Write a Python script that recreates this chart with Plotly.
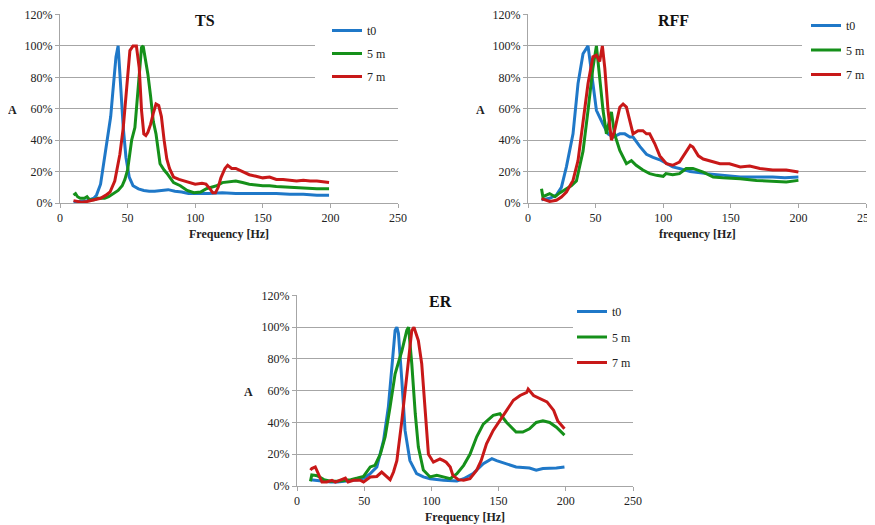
import plotly.graph_objects as go

W, H = 875, 525
OFF = 8  # page body margin offset
FONT = "Liberation Serif"
BLUE, GREEN, RED = "#1F78C8", "#15901A", "#C81818"
GRID = "#A6A6A6"

series_names = ["t0", "5 m", "7 m"]
x_ticks = [0, 50, 100, 150, 200, 250]
y_ticks = [0, 20, 40, 60, 80, 100, 120]
y_ticktext = ["0%", "20%", "40%", "60%", "80%", "100%", "120%"]

# ---------------- TS ----------------
ts_t0_x = [10, 15, 20, 25, 27, 30, 33, 35.7, 37.5, 39, 41.4, 43, 44.8, 46.8, 48.8, 51.2, 54, 58, 62, 66, 70, 75, 80, 85, 90, 95, 100, 110, 120, 130, 140, 150, 160, 170, 180, 190, 199]
ts_t0_y = [0.5, 1, 1.5, 3, 5, 12, 29, 42, 55, 70, 93, 100, 76, 48, 29, 16.5, 11, 9, 8, 7.5, 7.5, 8, 8.5, 7.5, 7, 6, 6, 6, 6.5, 6, 6, 6, 6, 5.5, 5.5, 5, 5]
ts_5m_x = [10, 11.5, 13, 15, 18, 20, 22, 25, 28, 30, 33, 36, 40, 43, 46, 48, 50, 53, 55.4, 57.9, 60.3, 61.5, 63, 65, 67, 69, 71, 74, 77, 79, 84, 89, 94, 99, 104, 108, 112, 116, 120, 125, 130, 135, 140, 145, 150, 155, 160, 170, 180, 185, 190, 195, 199]
ts_5m_y = [5, 6, 4, 3, 3, 4, 2, 2, 3, 3, 3, 4, 6, 8, 11, 15, 21, 40, 48, 73, 99, 100, 93, 82, 68, 52, 44, 25, 21, 19, 13, 11, 8, 6.5, 7, 9, 10, 11, 13, 13.5, 14, 13, 12, 11.5, 11, 11, 10.5, 10, 9.5, 9, 9, 9, 9]
ts_7m_x = [10, 13, 16, 20, 25, 30, 34, 37, 40.5, 44.3, 46.8, 49.3, 51.7, 54, 56.5, 58.6, 60.3, 62, 63.5, 65, 67, 69, 71, 73, 75, 77, 79, 81, 84, 88, 95, 100, 105, 108, 111, 113, 115, 117, 119, 122, 124, 127, 130, 135, 140, 145, 150, 155, 160, 165, 170, 175, 180, 185, 190, 195, 199]
ts_7m_y = [1.5, 1, 0.5, 1, 2, 3, 5, 7, 14, 31, 48, 76, 97, 100, 100, 86, 59, 44, 43, 45, 50, 57, 63, 62, 55, 40, 28, 22, 16.5, 15, 13, 12, 12.5, 12, 9, 6.5, 6.5, 10, 16, 22, 24, 22, 22, 20, 18, 17, 16, 16.5, 15, 15, 14.5, 14, 14.5, 14, 14, 13.5, 13]

# ---------------- RFF ----------------
rff_t0_x = [10, 16, 21, 24.7, 28.4, 33.3, 37, 40.7, 44.4, 46.9, 50.6, 55.5, 59.2, 63, 67.9, 71.6, 75.3, 77.7, 82.7, 87.6, 92.5, 97.5, 102.4, 107, 112, 120, 132, 144, 157, 170, 181, 190, 200]
rff_t0_y = [2, 3, 5, 10, 23, 44, 76, 95, 100, 82, 59, 50, 44, 42, 44, 44, 42, 42, 36, 31, 29, 27.5, 25, 23, 22, 20, 18.7, 17.6, 16.5, 16.5, 16.5, 16, 16.5]
rff_5m_x = [10, 11, 16, 20, 23.4, 28.4, 32, 35.8, 40.7, 44.4, 48, 50.6, 53, 55.5, 58, 61.7, 64, 67.9, 72.8, 76.5, 80, 85, 90, 95, 100, 102, 107, 112, 117, 122, 129.6, 137, 144, 157, 169, 181, 191, 200]
rff_5m_y = [9, 4, 6, 4, 6.4, 9, 11, 14, 33, 59, 86, 100, 80, 59, 44, 58, 44, 33.5, 25, 27, 24, 21, 18.7, 17.6, 17, 18.7, 18, 18.7, 22, 22, 19.7, 16.5, 16, 15.5, 14.4, 13.8, 13.4, 14.4]
rff_7m_x = [10, 16, 21, 24.7, 28.4, 33.3, 37, 40.7, 44.4, 48, 50.6, 53, 55, 56.8, 59.2, 61.7, 64, 67.9, 70.3, 72.8, 75.3, 77.7, 81.4, 85, 87.6, 90, 93.8, 97.5, 102.4, 107, 112, 116, 120, 122, 126, 129.6, 134.5, 142, 149, 157, 164, 171.5, 181, 191, 200]
rff_7m_y = [2.8, 1, 1.7, 3.8, 7, 14.4, 27, 50, 76, 93, 94, 90, 100, 86, 59, 40, 46, 61, 63, 61, 52.6, 44, 46, 46, 44, 44, 37.7, 30, 25, 24, 26, 31, 36.7, 35.6, 30, 28, 27, 25, 25, 23, 23.5, 22, 21, 21, 19.7]

# ---------------- ER ----------------
er_t0_x = [10, 15, 20, 25, 30, 37, 45, 50, 54.5, 59.4, 64.4, 68, 70.5, 73, 74.3, 75.5, 78, 80.4, 84, 89, 94, 99, 109, 119, 124, 131, 138.6, 145, 148.5, 156, 163, 173, 178, 183, 193, 199]
er_t0_y = [4, 3.5, 3, 2.5, 2.5, 3, 4, 5, 7.8, 12, 28.7, 50, 77, 98, 100, 96, 66.5, 35, 16, 7.8, 5.7, 4.6, 3.6, 3.1, 4.6, 7.8, 14, 17.2, 16, 14, 12, 11.3, 9.9, 11, 11.3, 12]
er_5m_x = [10, 11, 15, 18, 20, 25, 30, 35, 40, 45, 49.5, 54.5, 58, 62, 65.6, 69.3, 73, 78, 81.7, 83, 85.4, 88, 90.3, 94, 99, 104, 109, 114, 119, 124, 128.7, 133.7, 138.6, 146, 151, 156, 163, 168, 173, 178, 183, 188, 193, 199]
er_5m_y = [3, 7, 6.5, 5, 4, 3, 3, 3.5, 4, 5, 6, 12, 13, 20, 31, 50, 70.7, 85, 98, 100, 77, 45.5, 24.5, 10, 5.7, 6.7, 5.7, 4.6, 7.8, 13, 20, 31, 39, 44.5, 45.5, 40, 34, 34, 36, 40, 41, 40, 37, 32]
er_7m_x = [10, 11, 13.6, 16, 18.6, 22, 26, 28.5, 32, 36, 38, 42, 47, 49.5, 54.5, 59.4, 63, 66.8, 69.3, 71.8, 74.3, 78, 81.7, 85.4, 87, 90.3, 92.8, 95.3, 97.8, 101.5, 104, 106.4, 109, 111, 114, 116, 120, 124, 128.7, 133.7, 137, 141, 146, 151, 156, 161, 166, 171, 172, 176, 181, 186, 191, 194, 199]
er_7m_y = [10, 11, 12, 7.8, 2.5, 2.5, 3.6, 2.5, 3.6, 5, 2.5, 3.6, 3.6, 2.5, 5.7, 6, 8.8, 5.7, 4, 8.8, 16, 41, 70.7, 98, 100, 91.6, 77, 45.5, 20, 15, 16, 17, 16, 15, 12, 6.7, 4, 3.6, 4.6, 10, 16, 26.6, 35, 41, 47.6, 54, 57, 59, 61, 57, 55, 53, 47.6, 41, 36]

panels = [
    dict(name="TS", xlabel="Frequency [Hz]", px=(60, 398), py=(14, 203),
         data=[(ts_t0_x, ts_t0_y), (ts_5m_x, ts_5m_y), (ts_7m_x, ts_7m_y)],
         title_xy=(205, 20), legend_box=(315, 399, 17, 91), legend_xy=(327, 16), gap=4),
    dict(name="RFF", xlabel="frequency [Hz]", px=(528, 866), py=(14, 203),
         data=[(rff_t0_x, rff_t0_y), (rff_5m_x, rff_5m_y), (rff_7m_x, rff_7m_y)],
         title_xy=(673, 20), legend_box=(802, 867, 17, 91), legend_xy=(806, 11), gap=5.5),
    dict(name="ER", xlabel="Frequency [Hz]", px=(297, 633), py=(295, 486),
         data=[(er_t0_x, er_t0_y), (er_5m_x, er_5m_y), (er_7m_x, er_7m_y)],
         title_xy=(440, 301), legend_box=(573, 634, 300, 373), legend_xy=(572, 297), gap=6.5),
]
colors = [BLUE, GREEN, RED]

fig = go.Figure()
layout = dict(width=W, height=H, margin=dict(l=0, r=0, t=0, b=0, autoexpand=False),
              paper_bgcolor="white", plot_bgcolor="white",
              font=dict(family=FONT, size=12, color="#222"))
shapes, annotations = [], []

def fx(p):
    return (p - OFF) / W

def fy(p):
    return 1 - (p - OFF) / H

def label(text, x, y, size, color="#222", **kw):
    return dict(text=text, x=fx(x), y=fy(y), xref="paper", yref="paper",
                xanchor="center", yanchor="middle", showarrow=False,
                font=dict(family=FONT, size=size, color=color), **kw)

for i, p in enumerate(panels):
    sfx = "" if i == 0 else str(i + 1)
    xa, ya = "x" + sfx, "y" + sfx
    leg = "legend" + sfx
    for j, (xs, ys) in enumerate(p["data"]):
        fig.add_trace(go.Scatter(x=xs, y=ys, mode="lines", name=series_names[j],
                                 line=dict(color=colors[j], width=3),
                                 xaxis=xa, yaxis=ya, legend=leg,
                                 legendgroup=f"{p['name']}{j}", showlegend=True))
    layout["xaxis" + sfx] = dict(domain=[fx(p["px"][0]), fx(p["px"][1])], anchor=ya,
                                 range=[0, 250], tickmode="array", tickvals=x_ticks,
                                 ticktext=[str(v) for v in x_ticks], showgrid=False,
                                 showline=True, linecolor=GRID, linewidth=1,
                                 ticks="outside", ticklen=4, tickcolor=GRID,
                                 tickfont=dict(family=FONT, size=12, color="#222"),
                                 ticklabeloverflow="allow",
                                 zeroline=False, fixedrange=True, automargin=False)
    layout["yaxis" + sfx] = dict(domain=[fy(p["py"][1]), fy(p["py"][0])], anchor=xa,
                                 range=[0, 120.3], tickmode="array", tickvals=y_ticks,
                                 ticktext=y_ticktext, ticklabeloverflow="allow",
                                 showgrid=True, gridcolor=GRID, gridwidth=1,
                                 showline=True, linecolor=GRID, linewidth=1,
                                 ticks="outside", ticklen=4, tickcolor=GRID,
                                 tickfont=dict(family=FONT, size=12, color="#222"),
                                 zeroline=False, fixedrange=True, automargin=False)
    lx, ly = p["legend_xy"]
    layout[leg] = dict(x=fx(lx), y=fy(ly), xanchor="left", yanchor="top",
                       bgcolor="rgba(0,0,0,0)", font=dict(family=FONT, size=12, color="#222"),
                       tracegroupgap=p["gap"], itemwidth=30)
    x0, x1, y0, y1 = p["legend_box"]
    shapes.append(dict(type="rect", xref="paper", yref="paper", x0=fx(x0), x1=fx(x1),
                       y0=fy(y1), y1=fy(y0), fillcolor="white", line=dict(width=0),
                       layer="above"))
    tx, ty = p["title_xy"]
    annotations.append(label(f"<b>{p['name']}</b>", tx, ty, 16, "#111",
                             bgcolor="white", borderpad=3))
    cx = (p["px"][0] + p["px"][1]) / 2
    annotations.append(label(f"<b>{p['xlabel']}</b>", cx, p["py"][1] + 31, 12))
    annotations.append(label("<b>A</b>", p["px"][0] - 48,
                             (p["py"][0] + p["py"][1]) / 2 + 1, 12))

layout["shapes"] = shapes
layout["annotations"] = annotations
fig.update_layout(**layout)
fig.write_html("out.html")
